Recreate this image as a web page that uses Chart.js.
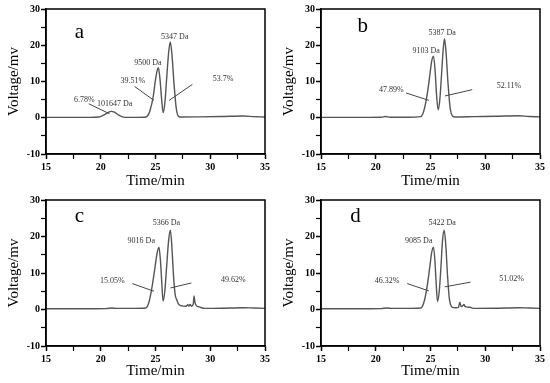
<!DOCTYPE html>
<html>
<head>
<meta charset="utf-8">
<script src="https://cdn.jsdelivr.net/npm/chart.js@4.4.1/dist/chart.umd.min.js"></script>
<style>
  html, body { margin: 0; padding: 0; background: #fff; }
  #wrap { position: relative; width: 550px; height: 383px; overflow: hidden; }
  .panel { position: absolute; width: 275px; }
</style>
</head>
<body>
<div id="wrap">
  <div class="panel" style="left:0;top:0;height:190px"><canvas id="chartA"></canvas></div>
  <div class="panel" style="left:275px;top:0;height:190px"><canvas id="chartB"></canvas></div>
  <div class="panel" style="left:0;top:190px;height:193px"><canvas id="chartC"></canvas></div>
  <div class="panel" style="left:275px;top:190px;height:193px"><canvas id="chartD"></canvas></div>
</div>
<script>
// Axis ticks (majors get a label, minors in between)
const timeTicks = [15, 20, 25, 30, 35];
const voltTicks = [-10, 0, 10, 20, 30];

// Chromatogram a
const timeA = [15, 17, 19, 19.8, 20.3, 20.7, 20.95, 21.2, 21.6, 22.0, 22.5, 24.0, 24.2, 24.5, 24.8, 25.0, 25.15, 25.26, 25.4, 25.55, 25.7, 25.85, 26.0, 26.2, 26.35, 26.5, 26.7, 26.9, 27.1, 27.4, 29, 31, 33, 34, 35];
const voltA = [0.1, 0.1, 0.1, 0.2, 0.8, 1.5, 1.75, 1.6, 0.8, 0.25, 0.1, 0.15, 0.3, 2.0, 6.0, 10.5, 13.0, 13.8, 11.0, 5.5, 1.4, 4.0, 10.0, 18.0, 20.9, 17.5, 9.0, 2.5, 0.4, 0.2, 0.25, 0.35, 0.5, 0.3, 0.2];
const massA = ['101647 Da', '9500 Da', '5347 Da'];
const shareA = ['6.78%', '39.51%', '53.7%'];

// Chromatogram b
const timeB = [15, 18, 20.5, 20.9, 21.3, 23, 24.1, 24.4, 24.7, 24.95, 25.1, 25.27, 25.42, 25.56, 25.7, 25.85, 26.0, 26.15, 26.28, 26.42, 26.6, 26.8, 27.0, 27.2, 29, 31, 33, 34, 35];
const voltB = [0.1, 0.1, 0.15, 0.35, 0.15, 0.15, 0.3, 2.0, 6.5, 12.0, 15.5, 17.0, 13.0, 6.0, 2.2, 5.0, 11.5, 18.5, 21.8, 18.0, 9.5, 2.5, 0.5, 0.2, 0.3, 0.4, 0.55, 0.35, 0.25];
const massB = ['9103 Da', '5387 Da'];
const shareB = ['47.89%', '52.11%'];

// Chromatogram c
const timeC = [15, 18, 20.5, 21, 21.5, 23, 24.1, 24.4, 24.7, 24.95, 25.15, 25.32, 25.45, 25.58, 25.69, 25.85, 26.0, 26.2, 26.36, 26.5, 26.65, 26.8, 26.95, 27.1, 27.4, 27.8, 27.95, 28.05, 28.15, 28.3, 28.45, 28.52, 28.6, 28.75, 29.0, 29.5, 31, 33, 34, 35];
const voltC = [0.2, 0.2, 0.25, 0.4, 0.3, 0.3, 0.4, 2.0, 6.5, 11.5, 15.5, 17.1, 13.5, 7.0, 2.3, 5.0, 11.0, 19.0, 21.7, 17.0, 9.0, 4.0, 2.6, 1.5, 1.0, 0.9, 1.3, 0.9, 1.4, 0.9, 1.5, 3.7, 2.0, 1.0, 0.7, 0.3, 0.35, 0.5, 0.4, 0.3];
const massC = ['9016 Da', '5366 Da'];
const shareC = ['15.05%', '49.62%'];

// Chromatogram d
const timeD = [15, 18, 20.5, 21, 21.5, 23, 24.1, 24.4, 24.7, 24.95, 25.1, 25.27, 25.4, 25.52, 25.64, 25.8, 25.95, 26.1, 26.25, 26.4, 26.55, 26.72, 26.85, 27.0, 27.3, 27.55, 27.68, 27.8, 27.95, 28.05, 28.15, 28.3, 28.6, 29, 31, 33, 34, 35];
const voltD = [0.2, 0.2, 0.25, 0.4, 0.3, 0.3, 0.4, 2.0, 6.5, 12.0, 15.5, 17.1, 13.5, 7.0, 2.2, 5.0, 11.5, 19.0, 21.7, 17.5, 9.5, 3.0, 1.2, 0.6, 0.5, 0.6, 2.0, 0.8, 1.0, 1.4, 0.9, 0.7, 0.6, 0.3, 0.35, 0.5, 0.4, 0.3];
const massD = ['9085 Da', '5422 Da'];
const shareD = ['46.32%', '51.02%'];

// where the annotations sit, in data units (time, voltage)
const panels = [
  { id: 'chartA', letter: 'a', time: timeA, volt: voltA, masses: massA, shares: shareA,
    padTop: 9, axisH: 36, titlePad: 1,
    letterAt: [18.05, 23.6],
    massAt: [[21.26, 3.86], [24.31, 15.26], [26.76, 22.25]],
    shareAt: [[18.51, 5.06], [22.94, 10.3], [31.18, 10.67]],
    leaders: [[18.9, 3.86, 20.8, 1.1], [23.09, 8.64, 24.86, 4.78], [26.24, 4.78, 28.37, 9.2]] },
  { id: 'chartB', letter: 'b', time: timeB, volt: voltB, masses: massB, shares: shareB,
    padTop: 9, axisH: 36, titlePad: 1,
    letterAt: [18.81, 25.1],
    massAt: [[24.6, 18.5], [26.07, 23.5]],
    shareAt: [[21.43, 7.75], [32.16, 8.86]],
    leaders: [[22.77, 6.83, 24.85, 4.8], [26.31, 6.0, 28.81, 7.75]] },
  { id: 'chartC', letter: 'c', time: timeC, volt: voltC, masses: massC, shares: shareC,
    padTop: 10, axisH: 37, titlePad: 4,
    letterAt: [18.05, 25.6],
    massAt: [[23.7, 18.7], [25.99, 23.8]],
    shareAt: [[21.05, 7.8], [32.1, 8.2]],
    leaders: [[22.88, 7.1, 24.86, 5.0], [26.36, 5.9, 28.28, 7.27]] },
  { id: 'chartD', letter: 'd', time: timeD, volt: voltD, masses: massD, shares: shareD,
    padTop: 10, axisH: 37, titlePad: 4,
    letterAt: [18.14, 25.6],
    massAt: [[23.93, 18.8], [26.07, 23.6]],
    shareAt: [[21.04, 7.8], [32.4, 8.5]],
    leaders: [[22.87, 7.1, 24.85, 5.1], [26.31, 6.2, 28.66, 7.5]] }
];

const SERIF = "'Liberation Serif', 'Times New Roman', serif";

// frame + text notes drawn over the plot
const notesPlugin = {
  id: 'notes',
  afterDatasetsDraw(chart) {
    const p = chart.options.plugins.notes.panel;
    const { ctx, chartArea: a, scales: { x, y } } = chart;
    ctx.save();
    ctx.strokeStyle = '#000';
    ctx.lineWidth = 1.5;
    ctx.strokeRect(a.left, a.top, a.right - a.left, a.bottom - a.top);

    ctx.strokeStyle = '#444';
    ctx.lineWidth = 1;
    p.leaders.forEach(l => {
      ctx.beginPath();
      ctx.moveTo(x.getPixelForValue(l[0]), y.getPixelForValue(l[1]));
      ctx.lineTo(x.getPixelForValue(l[2]), y.getPixelForValue(l[3]));
      ctx.stroke();
    });

    ctx.fillStyle = '#333';
    ctx.textAlign = 'center';
    ctx.textBaseline = 'middle';
    ctx.font = '8px ' + SERIF;
    p.masses.forEach((t, i) => ctx.fillText(t, x.getPixelForValue(p.massAt[i][0]), y.getPixelForValue(p.massAt[i][1])));
    p.shares.forEach((t, i) => ctx.fillText(t, x.getPixelForValue(p.shareAt[i][0]), y.getPixelForValue(p.shareAt[i][1])));

    ctx.fillStyle = '#000';
    ctx.font = '21px ' + SERIF;
    ctx.fillText(p.letter, x.getPixelForValue(p.letterAt[0]), y.getPixelForValue(p.letterAt[1]));
    ctx.restore();
  }
};

function makeChart(p) {
  const points = p.time.map((t, i) => ({ x: t, y: p.volt[i] }));
  return new Chart(document.getElementById(p.id), {
    type: 'scatter',
    data: {
      datasets: [{
        data: points,
        showLine: true,
        borderColor: '#555',
        borderWidth: 1.4,
        pointRadius: 0,
        cubicInterpolationMode: 'monotone'
      }]
    },
    options: {
      responsive: true,
      maintainAspectRatio: false,
      animation: false,
      layout: { padding: { top: p.padTop, right: 10, left: 0, bottom: 0 } },
      plugins: {
        legend: { display: false },
        tooltip: { enabled: false },
        notes: { panel: p }
      },
      scales: {
        x: {
          type: 'linear',
          min: 15,
          max: 35,
          afterFit: s => { s.height = p.axisH; },
          border: { display: true, color: '#000', width: 1.5 },
          grid: {
            drawOnChartArea: false,
            tickLength: 5,
            tickColor: '#000',
            tickWidth: c => timeTicks.includes(c.tick.value) ? 1.5 : 1.2
          },
          ticks: {
            stepSize: 2.5,
            autoSkip: false,
            maxRotation: 0,
            padding: 2,
            color: '#000',
            font: { family: SERIF, size: 10, weight: 'bold' },
            callback: v => timeTicks.includes(v) ? String(v) : ''
          },
          title: {
            display: true,
            text: 'Time/min',
            color: '#000',
            font: { family: SERIF, size: 15, lineHeight: 1 },
            padding: { top: 0, bottom: p.titlePad }
          }
        },
        y: {
          min: -10,
          max: 30,
          afterFit: s => { s.width = 46; },
          border: { display: true, color: '#000', width: 1.5 },
          grid: {
            drawOnChartArea: false,
            tickLength: 5,
            tickColor: '#000',
            tickWidth: c => voltTicks.includes(c.tick.value) ? 1.5 : 1.2
          },
          ticks: {
            stepSize: 5,
            autoSkip: false,
            padding: 1,
            color: '#000',
            font: { family: SERIF, size: 10, weight: 'bold' },
            callback: v => voltTicks.includes(v) ? String(v) : ''
          },
          title: {
            display: true,
            text: 'Voltage/mv',
            color: '#000',
            font: { family: SERIF, size: 15, lineHeight: 1 },
            padding: { top: 7, bottom: 0 }
          }
        }
      }
    },
    plugins: [notesPlugin]
  });
}

panels.forEach(makeChart);
</script>
</body>
</html>
